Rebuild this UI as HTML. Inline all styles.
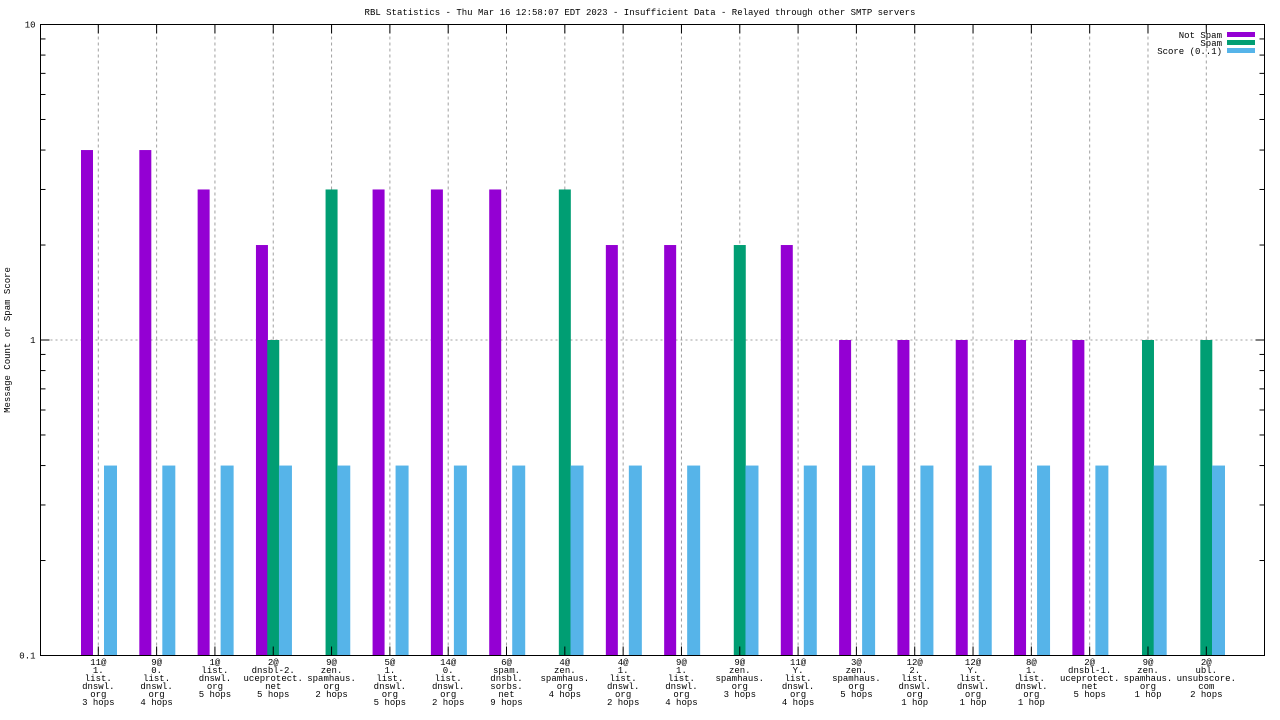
<!DOCTYPE html>
<html><head><meta charset="utf-8"><style>
html,body{margin:0;padding:0;background:#fff;}
svg{display:block;font-family:"Liberation Mono",monospace;font-size:9px;}
</style></head><body>
<svg id="c" width="1280" height="720" xmlns="http://www.w3.org/2000/svg"></svg>
<script>
const categories=[
["11@","1.","list.","dnswl.","org","3 hops"],["9@","0.","list.","dnswl.","org","4 hops"],["1@","list.","dnswl.","org","5 hops"],
["2@","dnsbl-2.","uceprotect.","net","5 hops"],["9@","zen.","spamhaus.","org","2 hops"],["5@","1.","list.","dnswl.","org","5 hops"],
["14@","0.","list.","dnswl.","org","2 hops"],["6@","spam.","dnsbl.","sorbs.","net","9 hops"],["4@","zen.","spamhaus.","org","4 hops"],
["4@","1.","list.","dnswl.","org","2 hops"],["9@","1.","list.","dnswl.","org","4 hops"],["9@","zen.","spamhaus.","org","3 hops"],
["11@","Y.","list.","dnswl.","org","4 hops"],["3@","zen.","spamhaus.","org","5 hops"],["12@","2.","list.","dnswl.","org","1 hop"],
["12@","Y.","list.","dnswl.","org","1 hop"],["8@","1.","list.","dnswl.","org","1 hop"],["2@","dnsbl-1.","uceprotect.","net","5 hops"],
["9@","zen.","spamhaus.","org","1 hop"],["2@","ubl.","unsubscore.","com","2 hops"]];
const notSpam=[4,4,3,2,0,3,3,3,0,2,2,0,2,1,1,1,1,1,0,0];
const spam=[0,0,0,1,3,0,0,0,3,0,0,2,0,0,0,0,0,0,1,1];
const score=[0.4,0.4,0.4,0.4,0.4,0.4,0.4,0.4,0.4,0.4,0.4,0.4,0.4,0.4,0.4,0.4,0.4,0.4,0.4,0.4];
const yTicks=[0.1,1,10];
const yTickLabels=["0.1","1","10"];

const svg=document.getElementById('c');
const NS="http://www.w3.org/2000/svg";
const L=40.5,R=1264.5,T=24.5,B=655.5;
const x0=98.3,step=(1206.3-98.3)/19;
const xc=i=>x0+i*step;
const y=v=>B-(Math.log10(v)+1)/2*(B-T);
function mk(tag,attrs,parent){const e=document.createElementNS(NS,tag);for(const k in attrs)e.setAttribute(k,attrs[k]);(parent||svg).appendChild(e);return e;}

// title
let t=mk('text',{x:640,y:15,'text-anchor':'middle'});


t.textContent="RBL Statistics - Thu Mar 16 12:58:07 EDT 2023 - Insufficient Data - Relayed through other SMTP servers";
// y title
t=mk('text',{x:0,y:0,'text-anchor':'middle',transform:'translate(10,340) rotate(-90)'});


t.textContent="Message Count or Spam Score";

// gridlines
const grid=mk('g',{});


categories.forEach((c,i)=>{mk('line',{x1:xc(i),x2:xc(i),y1:T,y2:B,stroke:'#a0a0a0','stroke-dasharray':'3,3'},grid);});
mk('line',{x1:L,x2:R,y1:y(1),y2:y(1),stroke:'#a0a0a0','stroke-dasharray':'2,3'},grid);

// bars
const bars=mk('g',{});


function bar(v,off,col,name){if(v<=0)return;const top=y(v);const r=mk('rect',{x:0,y:top,width:12,height:B-top,fill:col},bars);return r;}
categories.forEach((c,i)=>{
 let r=bar(notSpam[i],0,'#9400d3');
 if(r){r.setAttribute('x',xc(i)-17.3);}
 r=bar(spam[i],0,'#009e73');
 if(r){r.setAttribute('x',xc(i)-6);}
 r=bar(score[i],0,'#56b4e9');
 if(r){r.setAttribute('x',xc(i)+5.7);r.setAttribute('width',13);}
});

// axes frame
const ax=mk('g',{stroke:'#000','stroke-width':1,fill:'none'});


mk('rect',{x:L,y:T,width:R-L,height:B-T},ax);
// y ticks
for(let d=-1;d<1;d++){for(let m=1;m<10;m++){const v=m*Math.pow(10,d);const yy=y(v);const len=m==1?9:5;
 mk('line',{x1:L,x2:L+len,y1:yy,y2:yy},ax);mk('line',{x1:R,x2:R-len,y1:yy,y2:yy},ax);}}
yTicks.forEach((v,i)=>{const tt=mk('text',{x:L-5,y:y(v)+3,'text-anchor':'end'});
 
 
 tt.textContent=yTickLabels[i];});
// x ticks + labels
categories.forEach((c,i)=>{
 mk('line',{x1:xc(i),x2:xc(i),y1:B,y2:B-9},ax);mk('line',{x1:xc(i),x2:xc(i),y1:T,y2:T+9},ax);
 const tt=mk('text',{x:xc(i),y:665,'text-anchor':'middle'});
 
 
 c.forEach((s,j)=>{const ts=mk('tspan',{x:xc(i),dy:j?8:0},tt);ts.textContent=s;});
});

// legend
const lg=mk('g',{});


[["Not Spam",'#9400d3'],["Spam",'#009e73'],["Score (0..1)",'#56b4e9']].forEach((e,i)=>{
 const g=mk('g',{},lg);
 
 
 const tx=mk('text',{x:1222,y:38+i*8,'text-anchor':'end'},g);tx.textContent=e[0];
 mk('rect',{x:1227,y:32+i*8,width:28,height:5,fill:e[1]},g);
});
</script>
</body></html>
